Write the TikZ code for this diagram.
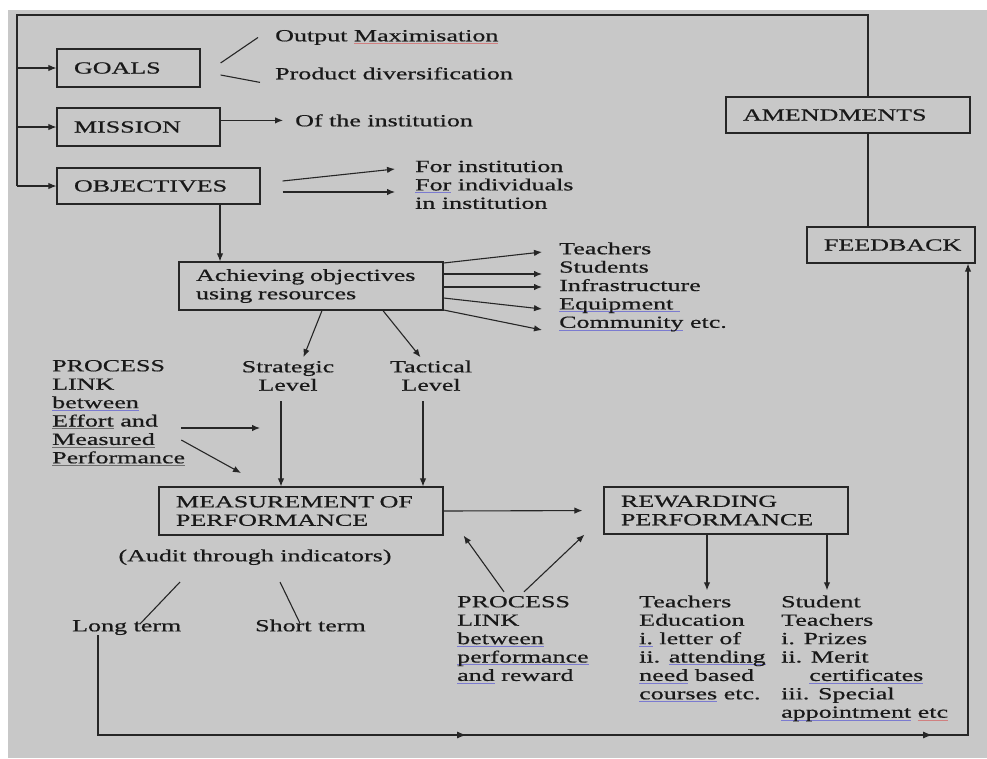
\documentclass[tikz,border=0pt]{standalone}
\usepackage{fontspec}
\setmainfont{Liberation Serif}[FakeStretch=1.53,FakeBold=0.6]
\usetikzlibrary{arrows.meta,decorations.markings}
\definecolor{bgc}{HTML}{C8C8C8}
\definecolor{ublue}{HTML}{7B7BD0}
\definecolor{ured}{HTML}{D08080}
\definecolor{ugray}{HTML}{707070}
\newsavebox\myulbox
\newcommand\myul[2]{\sbox\myulbox{#2}\rlap{\textcolor{#1}{\rule[-0.35ex]{\wd\myulbox}{0.9pt}}}\usebox\myulbox}
\newcommand\ulblue[1]{\myul{ublue}{#1}}
\newcommand\ulred[1]{\myul{ured}{#1}}
\newcommand\ulgray[1]{\myul{ugray}{#1}}
\begin{document}
\begin{tikzpicture}[x=1pt,y=-1pt,font=\fontsize{17}{18.4}\selectfont,
 box/.style={draw=black!85,line width=1.2pt,inner xsep=17pt,inner ysep=0pt,align=left,text=black!90},
 txt/.style={inner sep=0pt,align=left,anchor=mid west,text=black!90},
 ctxt/.style={inner sep=0pt,align=center,anchor=mid,text=black!90},
 ln/.style={line width=1.1pt,draw=black!85},
 arr/.style={ln,-{Latex[length=8pt,width=6.5pt]}},
 midarrows/.style={postaction={decorate},decoration={markings,
   mark=at position 468pt with {\arrow{Latex[length=9pt,width=7pt]}},
   mark=at position 934pt with {\arrow{Latex[length=9pt,width=7pt]}}}}]
\useasboundingbox (0,0) rectangle (987,758);
\fill[white] (0,0) rectangle (987,758);
\fill[bgc] (8,10) rectangle (987,758);

% boxes
\node[box,text width=109pt,minimum height=38pt] (goals) at (128.5,68) {GOALS};
\node[box,text width=129pt,minimum height=38pt] (mission) at (138.5,127) {MISSION};
\node[box,text width=169pt,minimum height=36pt] (objectives) at (158.5,186) {OBJECTIVES};
\node[box,text width=230pt,minimum height=48pt] (achieve) at (311,286) {Achieving~objectives\\using resources};
\node[box,text width=250pt,minimum height=48pt] (meas) at (301,511) {MEASUREMENT~OF\\PERFORMANCE};
\node[box,text width=210pt,minimum height=47pt] (reward) at (726,510.5) {REWARDING\\PERFORMANCE};
\node[box,text width=210pt,minimum height=36pt] (amend) at (848,115) {AMENDMENTS};
\node[box,text width=134pt,minimum height=36pt] (feedback) at (891,245) {FEEDBACK};

% texts (multi-line nodes are placed by their last line)
\node[txt] (outmax) at (275,39) {Output \ulred{Maximisation}};
\node[txt] (proddiv) at (275,77) {Product diversification};
\node[txt] (ofinst) at (295,124) {Of the institution};
\node[txt] (forinst) at (415,206.5) {For institution\\\ulblue{For} individuals\\in institution};
\node[txt] (res) at (559,325.5) {Teachers\\Students\\Infrastructure\\\ulblue{Equipment~}\\\ulblue{Community} etc.};
\node[ctxt] (strat) at (288,388.4) {Strategic\\Level};
\node[ctxt] (tact) at (431,388.4) {Tactical\\Level};
\node[txt] (plink1) at (52,461) {PROCESS\\LINK\\\ulblue{between}\\\ulgray{Effort} and\\\ulgray{Measured}\\\ulgray{Performance}};
\node[ctxt] (audit) at (255,559) {(Audit through indicators)};
\node[txt] (longt) at (72,629) {Long term};
\node[txt] (shortt) at (255,629) {Short term};
\node[txt] (plink2) at (457,678.6) {PROCESS\\LINK\\\ulblue{between}\\\ulblue{performance}\\\ulblue{and} reward};
\node[txt] (tedu) at (639,697) {Teachers\\Education\\\ulblue{i.} letter of\\ii. \ulblue{attending}\\\ulblue{need} based\\\ulblue{courses} etc.};
\node[txt] (stud) at (781,715.4) {Student\\Teachers\\i. Prizes\\ii. Merit\\\hspace*{28pt}\ulblue{certificates}\\iii. Special\\\ulblue{appointment} \ulred{etc}};

% top feedback loop
\coordinate (tl) at (17,15);
\coordinate (tr) at (868,15);
\draw[ln] (amend.north -| tr) -- (tr) -- (tl) -- (objectives.west -| tl);
\draw[arr] (goals.west -| tl) -- (goals.west);
\draw[arr] (mission.west -| tl) -- (mission.west);
\draw[arr] (objectives.west -| tl) -- (objectives.west);
\draw[ln] (amend.south -| tr) -- (feedback.north -| tr);

% goals
\draw[ln] ([shift={(20,-5)}]goals.east) -- ([shift={(-17,0)}]outmax.west);
\draw[ln] ([shift={(20,7)}]goals.east) -- ([shift={(-15,9)}]proddiv.west);
% mission
\draw[arr] (mission.east |- ofinst.west) -- ([xshift=-12pt]ofinst.west);
% objectives
\coordinate (fi1) at (395,169);
\coordinate (fi2) at (395,192);
\draw[arr] ([shift={(22,-5)}]objectives.east) -- (fi1);
\draw[arr] ([shift={(22,6)}]objectives.east) -- (fi2);
\coordinate (oax) at (220,0);
\draw[arr] (objectives.south -| oax) -- (achieve.north -| oax);

% resources
\foreach \a/\b [count=\i] in {-23/252,-12/274,1/287,12/309,24/330}{
  \coordinate (rs\i) at (542,\b);
  \draw[arr] ([shift={(0,\a)}]achieve.east) -- (rs\i);
}

% levels
\draw[arr,shorten >=4pt] ([xshift=11pt]achieve.south) -- ([xshift=14pt]strat.north);
\draw[arr,shorten >=4pt] ([xshift=72pt]achieve.south) -- ([xshift=-8pt]tact.north);
\coordinate (sx) at (281,0);
\coordinate (tx) at (423,0);
\draw[arr,shorten <=10pt] (strat.south -| sx) -- (meas.north -| sx);
\draw[arr,shorten <=10pt] (tact.south -| tx) -- (meas.north -| tx);

% left process link
\coordinate (pl1) at (260,428);
\coordinate (pl2s) at (0,440);
\coordinate (pl2) at (241,473);
\draw[arr] ([xshift=-4pt]plink1.east |- pl1) -- (pl1);
\draw[arr] ([xshift=-4pt]plink1.east |- pl2s) -- (pl2);

% measurement -> reward
\draw[arr,shorten >=21pt] (meas.east) -- (reward.west);

% bottom process link
\draw[arr] ([shift={(47,-4)}]plink2.north west) -- ([xshift=20pt]meas.south east);
\draw[arr] ([shift={(67,-4)}]plink2.north west) -- ([xshift=-19pt]reward.south west);

% reward outputs
\coordinate (te) at (707,0);
\coordinate (st) at (827,0);
\draw[arr,shorten >=5pt] (reward.south -| te) -- (tedu.north -| te);
\draw[arr,shorten >=5pt] (reward.south -| st) -- (stud.north -| st);

% audit
\draw[ln] ([shift={(-75,23)}]audit.mid) -- ([shift={(68,4)}]longt.north west);
\draw[ln] ([shift={(25,23)}]audit.mid) -- ([shift={(45,4)}]shortt.north west);

% bottom loop
\coordinate (lx) at (98,0);
\coordinate (bl) at (98,735);
\coordinate (br) at (968,735);
\draw[arr,midarrows] (longt.south -| lx) -- (bl) -- (br) -- (feedback.south -| br);
\end{tikzpicture}
\end{document}
